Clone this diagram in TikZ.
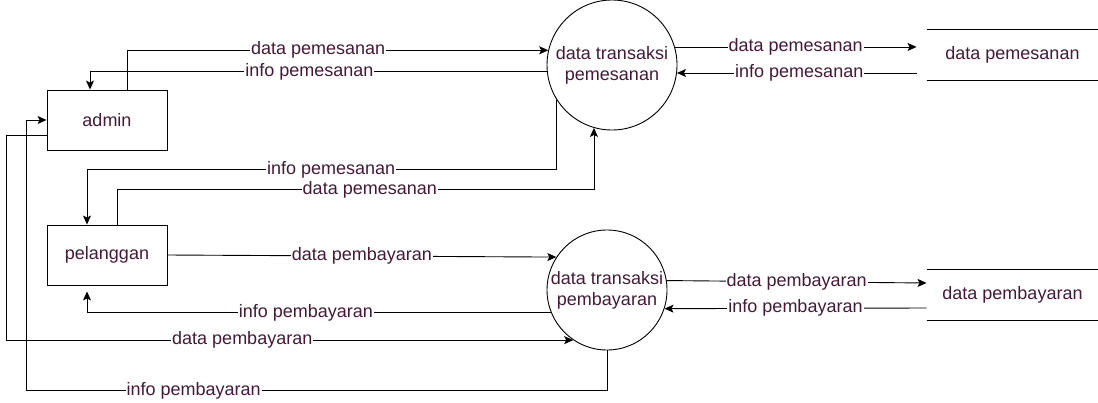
\documentclass[tikz,border=0pt]{standalone}
\usepackage{fontspec}
\setmainfont{Liberation Sans}
\usetikzlibrary{shapes,arrows.meta,positioning,calc}
\definecolor{labeltext}{RGB}{72,24,56}

\tikzset{
  entity/.style={draw, rectangle, minimum width=120pt, minimum height=60pt, text=labeltext},
  process/.style={draw, circle, inner sep=0pt, align=center, text=labeltext},
  datastore/.style={rectangle, minimum width=171pt, minimum height=50pt, text=labeltext},
  flow/.style={draw, -{Stealth[length=9pt,width=8pt,inset=2pt]}},
  lbl/.style={fill=white, inner sep=1pt, text=labeltext},
}

\begin{document}
\begin{tikzpicture}[x=1pt, y=-1pt, font={\fontsize{18}{21}\selectfont}, line width=0.9pt]
  \useasboundingbox (0,0) rectangle (1098,402);
  %entities
  \node [entity] (admin) at (107,120) {admin};
  \node [entity] (pelanggan) at (107,255) {pelanggan};
  %processes
  \node [process, minimum size=130pt] (trpesan) at (612,65) {data transaksi\\pemesanan};
  \node [process, minimum size=120pt] (trbayar) at (607,290) {data transaksi\\pembayaran};
  %data stores
  \node [datastore] (dspesan) at (1012.5,55) {data pemesanan};
  \node [datastore] (dsbayar) at (1012.5,295) {data pembayaran};
  \draw (dspesan.north west) -- (dspesan.north east)
        (dspesan.south west) -- (dspesan.south east);
  \draw (dsbayar.north west) -- (dsbayar.north east)
        (dsbayar.south west) -- (dsbayar.south east);

  %pemesanan
  \draw [flow] ($(admin.north)+(20,0)$) |- node [lbl, pos=0.727] {data pemesanan} (trpesan.167);
  \draw [flow] (trpesan.186) -| node [lbl, pos=0.26] {info pemesanan} ($(admin.north)+(-17,0)$);
  \draw [flow, shorten >=10pt] (trpesan.16) -- node [lbl, pos=0.48] {data pemesanan} (trpesan.16 -| dspesan.west);
  \draw [flow, shorten <=10pt] (trpesan.353 -| dspesan.west) -- node [lbl, pos=0.51] {info pemesanan} (trpesan.353);
  \draw [flow] (trpesan.212) |- node [lbl, pos=0.74] {info pemesanan} ($(pelanggan.north)+(-20,-55)$)
        -- ($(pelanggan.north)+(-20,0)$);
  \draw [flow] ($(pelanggan.north)+(10,0)$) |- node [lbl, pos=0.765] {data pemesanan} ($(trpesan.254 |- pelanggan.north)+(0,-35)$)
        -- (trpesan.254);

  %pembayaran
  \draw [flow] (pelanggan.east) -- node [lbl] {data pembayaran} (trbayar.147);
  \draw [flow, shorten >=6pt] (trbayar.202) -| node [lbl, pos=0.264] {info pembayaran} ($(pelanggan.south)+(-20,0)$);
  \draw [flow] ($(admin.west)+(0,15)$) -- ($(admin.west)+(-40,15)$)
        |- node [lbl, pos=0.708] {data pembayaran} (trbayar.236);
  \draw [flow] (trbayar.south) -- ++(0,40)
        -| node [lbl, pos=0.356] {info pembayaran} ($(admin.west)+(-20,0)$) -- (admin.west);
  \draw [flow] (trbayar.9) -- node [lbl] {data pembayaran} ($(dsbayar.west)+(0,-12)$);
  \draw [flow] ($(dsbayar.west)+(0,13)$) -- node [lbl] {info pembayaran} (trbayar.342);
\end{tikzpicture}
\end{document}
